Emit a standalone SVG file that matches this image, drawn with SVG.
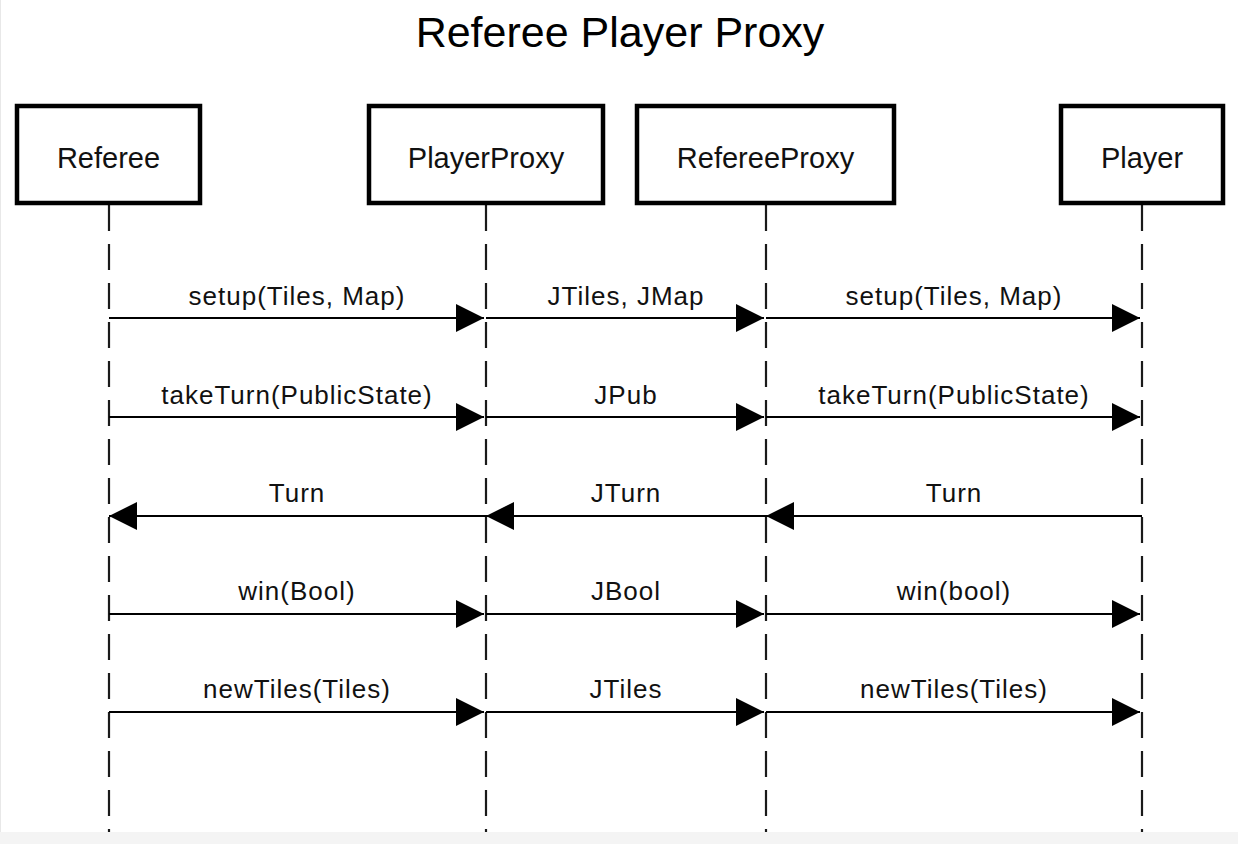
<svg xmlns="http://www.w3.org/2000/svg" width="1238" height="844" viewBox="0 0 1238 844">
  <style>
    .box { fill: #ffffff; stroke: #000000; stroke-width: 4.5; }
    .boxlabel { font-family: "Liberation Sans", Arial, sans-serif; font-size: 29px; fill: #111111; text-anchor: middle; }
    .title { font-family: "Liberation Sans", Arial, sans-serif; font-size: 43px; fill: #000000; text-anchor: middle; }
    .life { stroke: #1a1a1a; stroke-width: 2.2; stroke-dasharray: 26 13; fill: none; }
    .msg { stroke: #000000; stroke-width: 2.2; fill: none; marker-end: url(#arr); }
    .label { font-family: "Liberation Sans", Arial, sans-serif; font-size: 26px; letter-spacing: 1px; fill: #111111; text-anchor: middle; }
  </style>
  <defs>
    <marker id="arr" markerUnits="userSpaceOnUse" markerWidth="28" markerHeight="28" refX="28" refY="14" orient="auto">
      <path d="M0,0 L28,14 L0,28 Z" fill="#000000"/>
    </marker>
  </defs>
  <rect x="0" y="0" width="1238" height="844" fill="#ffffff"/>
  <rect x="0" y="832" width="1238" height="12" fill="#f4f4f4"/>
  <line x1="0.5" y1="0" x2="0.5" y2="832" stroke="#e8e8e8" stroke-width="1"/>

  <text class="title" x="620" y="47">Referee Player Proxy</text>

  <g id="lifelines">
    <line class="life" x1="109" y1="205" x2="109" y2="832"/>
    <line class="life" x1="486" y1="205" x2="486" y2="832"/>
    <line class="life" x1="766" y1="205" x2="766" y2="832"/>
    <line class="life" x1="1142" y1="205" x2="1142" y2="832"/>
  </g>

  <g id="node-referee">
    <rect class="box" x="17" y="106" width="183" height="97"/>
    <text class="boxlabel" x="108.5" y="168">Referee</text>
  </g>
  <g id="node-playerproxy">
    <rect class="box" x="369" y="106" width="234" height="97"/>
    <text class="boxlabel" x="486" y="168">PlayerProxy</text>
  </g>
  <g id="node-refereeproxy">
    <rect class="box" x="637" y="106" width="257" height="97"/>
    <text class="boxlabel" x="765.5" y="168">RefereeProxy</text>
  </g>
  <g id="node-player">
    <rect class="box" x="1061" y="106" width="162" height="97"/>
    <text class="boxlabel" x="1142" y="168">Player</text>
  </g>

  <g id="connectors">
    <line class="msg" x1="109" y1="318" x2="484" y2="318"/>
    <line class="msg" x1="486" y1="318" x2="764" y2="318"/>
    <line class="msg" x1="766" y1="318" x2="1140" y2="318"/>

    <line class="msg" x1="109" y1="417" x2="484" y2="417"/>
    <line class="msg" x1="486" y1="417" x2="764" y2="417"/>
    <line class="msg" x1="766" y1="417" x2="1140" y2="417"/>

    <line class="msg" x1="486" y1="516" x2="109" y2="516"/>
    <line class="msg" x1="766" y1="516" x2="486" y2="516"/>
    <line class="msg" x1="1142" y1="516" x2="766" y2="516"/>

    <line class="msg" x1="109" y1="614" x2="484" y2="614"/>
    <line class="msg" x1="486" y1="614" x2="764" y2="614"/>
    <line class="msg" x1="766" y1="614" x2="1140" y2="614"/>

    <line class="msg" x1="109" y1="712" x2="484" y2="712"/>
    <line class="msg" x1="486" y1="712" x2="764" y2="712"/>
    <line class="msg" x1="766" y1="712" x2="1140" y2="712"/>
  </g>

  <g id="labels">
    <text class="label" x="297" y="305">setup(Tiles, Map)</text>
    <text class="label" x="626" y="305">JTiles, JMap</text>
    <text class="label" x="954" y="305">setup(Tiles, Map)</text>

    <text class="label" x="297" y="404">takeTurn(PublicState)</text>
    <text class="label" x="626" y="404">JPub</text>
    <text class="label" x="954" y="404">takeTurn(PublicState)</text>

    <text class="label" x="297" y="502">Turn</text>
    <text class="label" x="626" y="502">JTurn</text>
    <text class="label" x="954" y="502">Turn</text>

    <text class="label" x="297" y="600">win(Bool)</text>
    <text class="label" x="626" y="600">JBool</text>
    <text class="label" x="954" y="600">win(bool)</text>

    <text class="label" x="297" y="698">newTiles(Tiles)</text>
    <text class="label" x="626" y="698">JTiles</text>
    <text class="label" x="954" y="698">newTiles(Tiles)</text>
  </g>
</svg>
